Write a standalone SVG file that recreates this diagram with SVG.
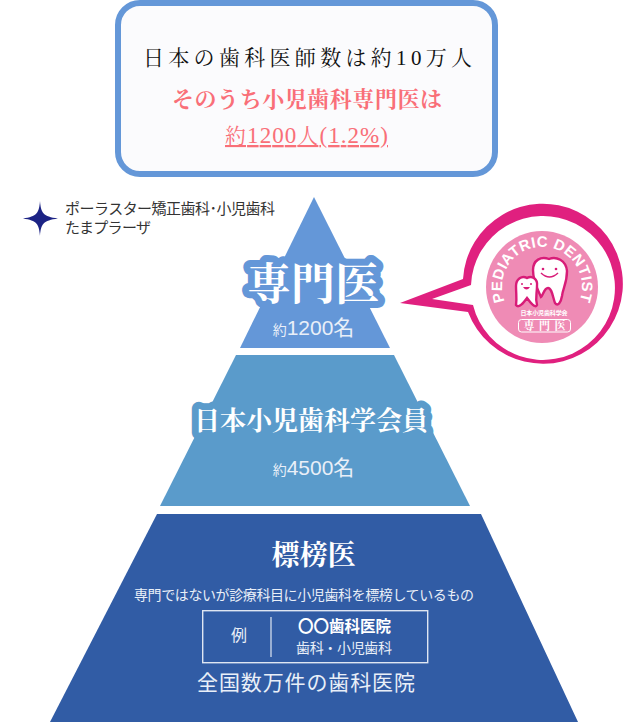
<svg xmlns="http://www.w3.org/2000/svg" width="632" height="723" viewBox="0 0 632 723">
<style>
text{font-family:"Liberation Serif","Noto Serif CJK JP","Noto Sans CJK JP",serif;text-anchor:middle}
.s{font-family:"Liberation Sans","Noto Sans CJK JP",sans-serif}
.c{font-family:"Noto Sans CJK JP",sans-serif}
.w{fill:#fff}
.light{fill:#e9eff8}
</style>
<defs><path id="arc" d="M530,325 A40,40 0 1 1 554,325"/></defs>
<rect width="632" height="723" fill="#fff"/>
<g id="summary">
<rect x="118" y="3" width="377" height="171" rx="22" fill="#fbfbfd" stroke="#6497d8" stroke-width="6"/>
<text x="307.500" y="65" font-size="21" textLength="329" fill="#111">日本の歯科医師数は約10万人</text>
<text x="307" y="107" font-size="22" textLength="270" fill="#f96f78" font-weight="700">そのうち小児歯科専門医は</text>
<text x="306.500" y="143" font-size="21" textLength="163" fill="#f96f78" text-decoration="underline">約<tspan font-size="23">1200</tspan>人<tspan font-size="23">(1.2%)</tspan></text>
</g>
<g id="clinic">
<path d="M40,201 C41,213 43,216.500 58,218.500 C43,220.500 41,224 40,236 C39,224 37,220.500 23,218.500 C37,216.500 39,213 40,201Z" fill="#1c2385"/>
<text class="s" x="170" y="214" font-size="15" textLength="210" fill="#333">ポーラスター矯正歯科･小児歯科</text>
<text class="s" x="108" y="233" font-size="15" textLength="86" fill="#333">たまプラーザ</text>
</g>
<g id="tier-specialist">
<path d="M314,197 L390,348 H240Z" fill="#6497d8"/>
<text x="313" y="300" font-size="44" class="w" font-weight="700" stroke="#6497d8" stroke-width="14" stroke-linejoin="round" paint-order="stroke">専門医</text>
<text class="s light" x="313.500" y="335" font-size="21"><tspan font-size="14">約</tspan>1200名</text>
</g>
<g id="tier-member">
<path d="M236,355 H394 L470,506 H160Z" fill="#5a9bcb"/>
<text x="311" y="430" font-size="26" class="w" font-weight="700" stroke="#5a9bcb" stroke-width="14" stroke-linejoin="round" paint-order="stroke">日本小児歯科学会員</text>
<text class="s light" x="313.500" y="475" font-size="21"><tspan font-size="14">約</tspan>4500名</text>
</g>
<g id="tier-clinic">
<path d="M157,514 H481 L578,722 H50Z" fill="#315ca5"/>
<text x="313.500" y="565" font-size="28" class="w" font-weight="700">標榜医</text>
<text class="s light" x="304" y="600" font-size="14" textLength="340">専門ではないが診療科目に小児歯科を標榜しているもの</text>
<rect x="202.700" y="610.700" width="225" height="52" fill="none" stroke="#dfe6f2" stroke-width="1.400"/>
<path d="M271,617 V657" stroke="#dfe6f2" stroke-width="1.200"/>
<text class="s light" x="239" y="641" font-size="16">例</text>
<text class="c w" x="344.500" y="632" font-size="15.500" font-weight="700">〇〇歯科医院</text>
<text class="s light" x="344" y="653" font-size="14" textLength="96">歯科・小児歯科</text>
<text class="s light" x="306" y="690" font-size="21" textLength="218">全国数万件の歯科医院</text>
</g>
<g id="badge">
<path d="M400,303 L463,279 A80,80 0 1 1 468,312Z" fill="#e0207f"/>
<path d="M432,299 L471,285 A72,72 0 1 1 473,305Z" fill="#fff"/>
<circle cx="542" cy="287" r="56" fill="#ef8bb5"/>
<text class="s w" font-size="15" font-weight="700" letter-spacing="0.400"><textPath href="#arc" startOffset="50%">PEDIATRIC DENTIST</textPath></text>
<path d="M533,270 C533,260 541,256 549,259 C556,256 566,260 567,271 C567,283 563,288 562,296 C561,302 558,307 555,303 C553,298 552,288 548,288 C544,288 543,296 541,297 C538,290 533,282 533,270Z" fill="#fff" stroke="#d81c78" stroke-width="2.400"/>
<path d="M516,286 C516,279 522,275 527,278 C532,275 538,279 537,286 C537,294 535,298 537,305 C535,309 530,302 527,298 C524,302 519,309 516,305 C517,298 516,294 516,286Z" fill="#fff" stroke="#d81c78" stroke-width="2.400"/>
<g fill="#d81c78"><circle cx="543" cy="269" r="1.300"/><circle cx="556" cy="269" r="1.300"/><circle cx="522" cy="284" r="1"/><circle cx="531" cy="284" r="1"/></g>
<path d="M541,273 Q549.500,281 558,273" fill="none" stroke="#d81c78" stroke-width="1.500"/>
<path d="M523,287 Q526.500,292 530,287Z" fill="#d81c78"/>
<text class="s w" x="544" y="315" font-size="6" font-weight="700" textLength="47">日本小児歯科学会</text>
<rect x="518.500" y="319.500" width="52" height="12.500" rx="3" fill="#ef8bb5" stroke="#fff"/>
<text x="544.500" y="330" font-size="11" font-weight="700" class="w" textLength="42">専門医</text>
</g>
</svg>
